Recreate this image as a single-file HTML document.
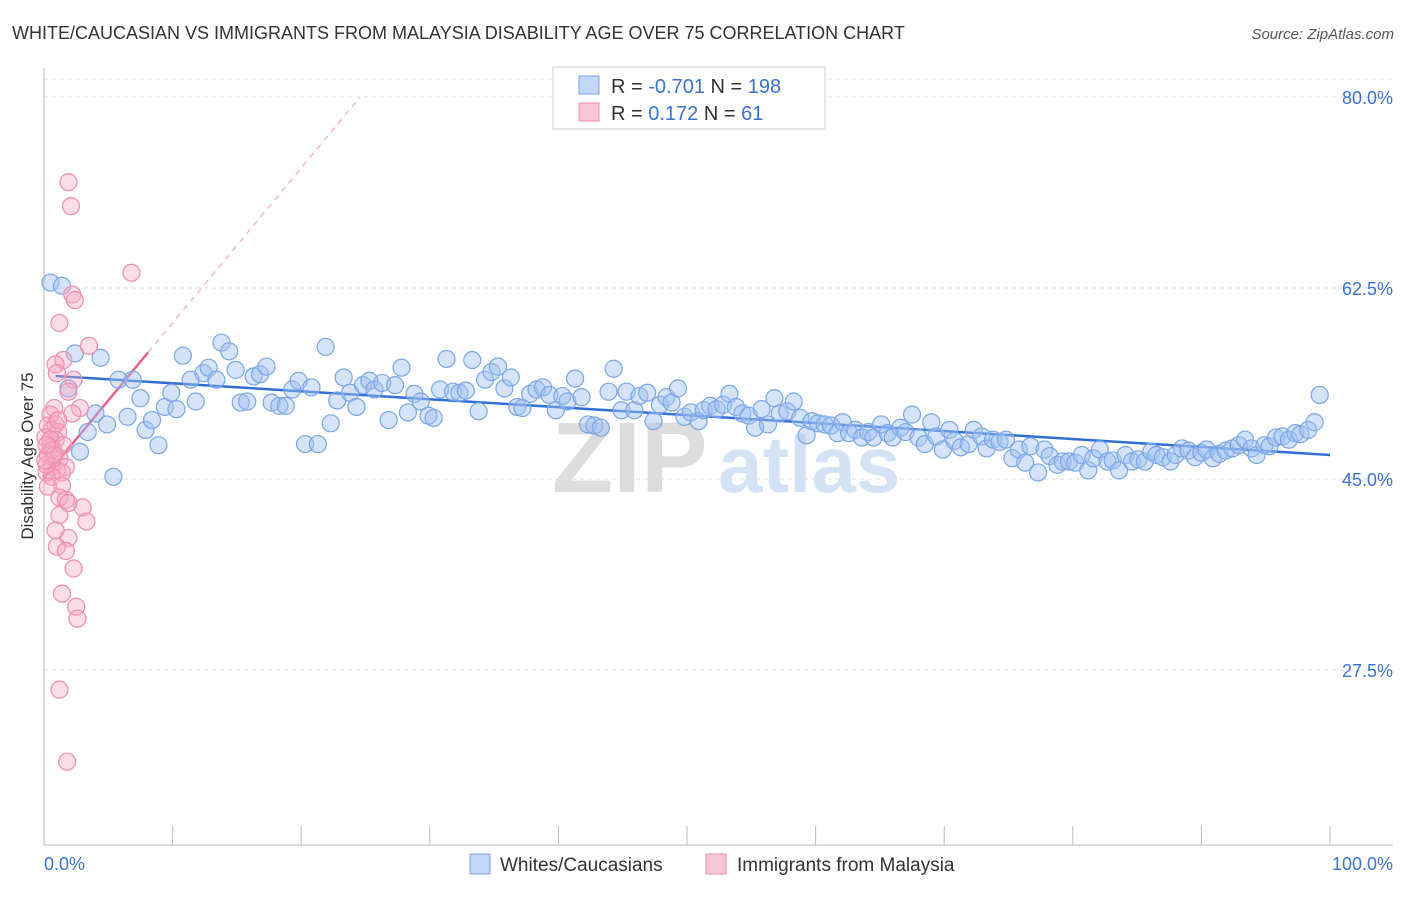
<!DOCTYPE html>
<html><head><meta charset="utf-8"><style>
body{margin:0;background:#fff;font-family:"Liberation Sans",sans-serif;}
svg text{font-family:"Liberation Sans",sans-serif;}
</style></head><body>
<svg id="chart" width="1406" height="892" viewBox="0 0 1406 892" xmlns="http://www.w3.org/2000/svg">
<text x="12" y="39" font-size="18" fill="#333">WHITE/CAUCASIAN VS IMMIGRANTS FROM MALAYSIA DISABILITY AGE OVER 75 CORRELATION CHART</text>
<text x="1394" y="39" font-size="15" fill="#555" text-anchor="end" font-style="italic">Source: ZipAtlas.com</text>
<g>
<text x="552" y="492" font-size="100" fill="#ddd" font-family="Liberation Serif" font-weight="bold">ZIP</text>
<text x="718" y="492" font-size="80" fill="#d4e2f6" font-weight="bold">atlas</text>
</g>
<g id="grid"></g><g id="axes"></g><g id="trends"></g><g id="points"></g>
<text transform="translate(33,456) rotate(-90)" font-size="17" fill="#333" text-anchor="middle">Disability Age Over 75</text>
<g>
<rect x="553" y="67" width="272" height="62" fill="#fff" stroke="#ccc"/>
<rect x="579" y="76" width="20" height="18" fill="#c2d6f5" stroke="#7aa6e8"/>
<rect x="579" y="103" width="20" height="18" fill="#f8c6d6" stroke="#f08cb0"/>
<text x="611" y="93" font-size="20" fill="#333">R = <tspan fill="#3b73d4">-0.701</tspan>   N = <tspan fill="#3b73d4">198</tspan></text>
<text x="611" y="120" font-size="20" fill="#333">R =   <tspan fill="#3b73d4">0.172</tspan>   N =   <tspan fill="#3b73d4">61</tspan></text>
</g>
<g>
<rect x="470" y="854" width="20" height="20" fill="#c2d6f5" stroke="#7aa6e8"/>
<text x="500" y="871" font-size="19" fill="#333">Whites/Caucasians</text>
<rect x="706" y="854" width="20" height="20" fill="#f8c6d6" stroke="#f08cb0"/>
<text x="737" y="871" font-size="19" fill="#333">Immigrants from Malaysia</text>
</g>
</svg>
<script>
const yTicks=[80,62.5,45,27.5];
const yTickLabels=["80.0%","62.5%","45.0%","27.5%"];
const xTicks=[0,10,20,30,40,50,60,70,80,90,100];
const xEndLabels=["0.0%","100.0%"];
const blueX=[0.5,1.4,2.4,1.9,4.0,3.4,2.8,4.4,4.9,5.4,5.8,6.5,6.9,7.5,7.9,8.4,8.9,9.4,9.9,10.3,10.8,11.4,11.8,12.4,12.8,13.4,13.8,14.4,14.9,15.3,15.8,16.3,16.8,17.3,17.7,18.3,18.8,19.3,19.8,20.3,20.8,21.3,21.9,22.3,22.8,23.3,23.8,24.3,24.8,25.3,25.7,26.3,26.8,27.3,27.8,28.3,28.8,29.3,29.9,30.3,30.8,31.3,31.8,32.3,32.8,33.3,33.8,34.3,34.8,35.3,35.8,36.3,36.8,37.2,37.8,38.3,38.8,39.3,39.8,40.3,40.7,41.3,41.8,42.3,42.8,43.3,43.9,44.3,44.9,45.3,45.9,46.3,46.9,47.4,47.9,48.4,48.8,49.3,49.8,50.3,50.9,51.3,51.8,52.3,52.8,53.3,53.8,54.3,54.8,55.3,55.8,56.3,56.8,57.2,57.8,58.3,58.8,59.3,59.7,60.2,60.7,61.2,61.7,62.1,62.6,63.1,63.6,64.1,64.5,65.1,65.6,66.0,66.6,67.0,67.5,68.0,68.5,69.0,69.4,69.9,70.4,70.8,71.3,71.9,72.3,72.9,73.3,73.8,74.3,74.8,75.3,75.8,76.3,76.7,77.3,77.8,78.2,78.8,79.2,79.7,80.2,80.7,81.2,81.6,82.1,82.7,83.1,83.6,84.1,84.6,85.1,85.6,86.1,86.5,87.0,87.6,88.0,88.5,89.0,89.5,90.0,90.4,90.9,91.4,91.9,92.4,92.9,93.4,93.9,94.3,94.9,95.3,95.8,96.3,96.8,97.3,97.7,98.3,98.8,99.2];
const blueY=[63.0,62.7,56.5,53.3,51.0,49.3,47.5,56.1,50.0,45.2,54.1,50.7,54.1,52.4,49.5,50.4,48.1,51.6,52.9,51.4,56.3,54.1,52.1,54.7,55.2,54.1,57.5,56.7,55.0,52.0,52.1,54.4,54.6,55.3,52.0,51.7,51.7,53.2,54.0,48.2,53.4,48.2,57.1,50.1,52.2,54.3,52.9,51.6,53.6,54.0,53.2,53.8,50.4,53.6,55.2,51.1,52.8,52.1,50.8,50.6,53.2,56.0,53.0,52.9,53.1,55.9,51.2,54.1,54.8,55.3,53.3,54.3,51.6,51.5,52.8,53.2,53.4,52.7,51.3,52.6,52.1,54.2,52.5,50.0,49.9,49.7,53.0,55.1,51.3,53.0,51.3,52.6,52.9,50.3,51.8,52.5,52.0,53.3,50.7,51.1,50.3,51.3,51.7,51.4,51.8,52.8,51.6,51.0,50.8,49.7,51.4,50.0,52.4,51.0,51.2,52.1,50.6,49.0,50.3,50.1,50.0,49.9,49.2,50.2,49.2,49.5,48.8,49.3,48.8,50.0,49.2,48.8,49.7,49.3,50.9,48.8,48.2,50.2,48.9,47.7,49.5,48.5,47.9,48.2,49.5,48.9,47.8,48.6,48.4,48.6,46.9,47.7,46.5,48.0,45.6,47.7,47.1,46.3,46.6,46.6,46.5,47.2,45.8,46.9,47.7,46.6,46.7,45.8,47.2,46.6,46.8,46.6,47.5,47.2,47.0,46.6,47.2,47.8,47.6,47.0,47.4,47.7,46.9,47.3,47.6,47.8,48.1,48.6,47.8,47.2,48.1,48.0,48.8,48.9,48.6,49.2,49.1,49.5,50.2,52.7];
const pinkX=[1.9,2.1,6.8,2.2,2.4,1.2,3.5,1.5,0.9,1.0,2.3,1.9,0.8,2.8,0.5,2.2,0.9,0.3,0.6,1.1,0.1,0.9,0.5,0.3,1.2,1.7,0.6,1.0,0.2,1.4,0.6,1.4,0.3,1.2,1.7,3.0,1.9,1.2,3.3,0.9,1.9,1.0,1.7,2.3,1.4,2.5,2.6,1.2,1.8,0.5,0.2,0.7,1.1,0.1,1.5,0.8,0.2];
const pinkY=[72.2,70.0,63.9,61.9,61.4,59.3,57.2,55.9,55.5,54.7,54.1,53.0,51.5,51.5,50.9,51.0,50.0,49.9,49.5,49.3,48.8,48.6,47.9,47.2,46.9,46.1,46.1,45.8,45.6,45.6,45.2,44.4,44.3,43.3,43.1,42.4,42.8,41.7,41.1,40.3,39.6,38.8,38.4,36.8,34.5,33.3,32.2,25.7,19.1,48.6,46.3,47.7,50.4,46.7,48.1,47.2,48.1];
const blueTrend=[54.5,-0.073];   // intercept, slope
const pinkTrend=[45.1,1.42];
const pinkSolidEnd=[8.1];

const NS="http://www.w3.org/2000/svg";
const X0=44,X1=1330,Ytop=97,Ypx=191/17.5;
const xs=v=>X0+(X1-X0)*v/100;
const ys=v=>Ytop+(80-v)*Ypx;
function mk(tag,attrs,parent){const e=document.createElementNS(NS,tag);for(const k in attrs)e.setAttribute(k,attrs[k]);document.getElementById(parent).appendChild(e);return e;}

yTicks.forEach((t,i)=>{
 const l=mk('line',{x1:44,x2:1393,y1:ys(t),y2:ys(t),stroke:'#ddd','stroke-dasharray':'4,4'},'grid');
 
 
 const tx=mk('text',{x:1393,y:ys(t)+7,'font-size':18,fill:'#3b73d4','text-anchor':'end'},'axes');
 tx.textContent=yTickLabels[i];
 
 
});
const topG=mk('line',{x1:44,x2:1393,y1:79,y2:79,stroke:'#ddd','stroke-dasharray':'4,4'},'grid');


const yAx=mk('line',{x1:44,x2:44,y1:68,y2:845,stroke:'#bbb'},'axes');


const xAx=mk('line',{x1:44,x2:1393,y1:845,y2:845,stroke:'#bbb'},'axes');


xTicks.forEach(t=>{
 const l=mk('line',{x1:xs(t),x2:xs(t),y1:826,y2:845,stroke:'#bbb'},'axes');
 
 
});
const xl0=mk('text',{x:44,y:870,'font-size':18,fill:'#3b73d4'},'axes');xl0.textContent=xEndLabels[0];


const xl1=mk('text',{x:1393,y:870,'font-size':18,fill:'#3b73d4','text-anchor':'end'},'axes');xl1.textContent=xEndLabels[1];



const n1=Math.min(blueX.length,blueY.length);
for(let i=0;i<n1;i++){
 const c=mk('circle',{cx:xs(blueX[i]),cy:ys(blueY[i]),r:8.5,fill:'rgba(160,192,240,0.45)',stroke:'#7aa6e8','stroke-width':1.2},'points');
 
 
}
const n2=Math.min(pinkX.length,pinkY.length);
for(let i=0;i<n2;i++){
 const c=mk('circle',{cx:xs(pinkX[i]),cy:ys(pinkY[i]),r:8.5,fill:'rgba(244,170,196,0.4)',stroke:'#f08cb0','stroke-width':1.2},'points');
 
 
}
const bt=mk('line',{x1:xs(0.9),y1:ys(blueTrend[0]+blueTrend[1]*0.9),x2:xs(100),y2:ys(blueTrend[0]+blueTrend[1]*100),stroke:'#2f6fd6','stroke-width':2.5},'trends');


const pxEnd=(80-pinkTrend[0])/pinkTrend[1];
const pd=mk('line',{x1:xs(pinkSolidEnd[0]),y1:ys(pinkTrend[0]+pinkTrend[1]*pinkSolidEnd[0]),x2:xs(pxEnd),y2:ys(80),stroke:'#f4a6c0','stroke-width':1.2,'stroke-dasharray':'6,5'},'trends');


const ps=mk('line',{x1:xs(0),y1:ys(pinkTrend[0]),x2:xs(pinkSolidEnd[0]),y2:ys(pinkTrend[0]+pinkTrend[1]*pinkSolidEnd[0]),stroke:'#ec5f8f','stroke-width':2.5},'trends');


</script>
</body></html>
